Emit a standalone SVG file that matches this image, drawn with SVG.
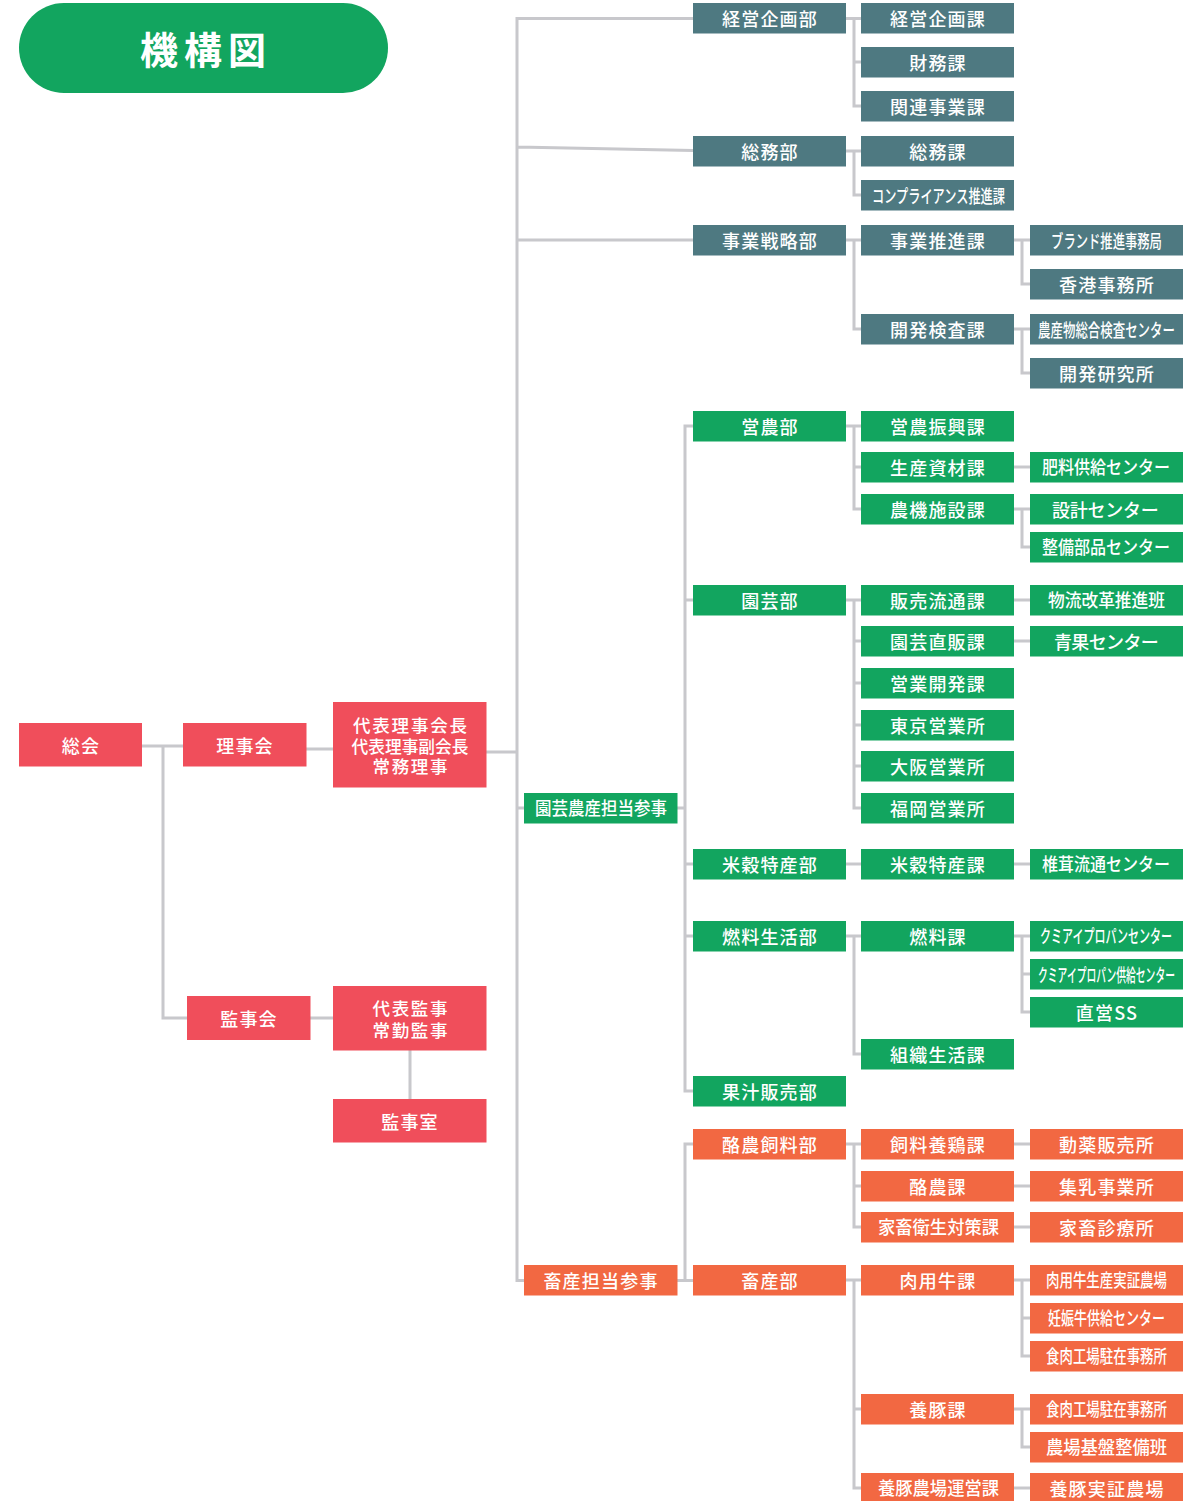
<svg xmlns="http://www.w3.org/2000/svg" width="1204" height="1501" viewBox="0 0 1204 1501">
<style>
.t{fill:#4e7981}.g{fill:#12a55f}.r{fill:#f04e5b}.o{fill:#f26842}
text{font-family:"Noto Sans CJK JP","Noto Sans CJK SC",sans-serif;font-size:18px;fill:#fff;font-weight:500;text-anchor:middle;dominant-baseline:central;letter-spacing:1.2px}
text.s{font-size:17.5px;letter-spacing:0}
text.c{letter-spacing:0}
text.title{font-size:38px;font-weight:700;letter-spacing:6px}
#conn path{stroke:#c8c8cc;stroke-width:3;fill:none}
</style>
<g id="conn">
<path d="M142,746H183M306,749H333M486,752H517M163,746V1018H187M310,1018H333M410,1050V1099"/>
<path d="M693,18.5H517V1280.5H524M517,147L693,150.5M517,240H693M517,808H524"/>
<path d="M677,808H685M693,426H685V1091H693M685,600H693M685,864H693M685,936H693"/>
<path d="M677,1280.5H693M685,1280.5V1144H693"/>
<path d="M846,18.5H861M854,18.5V106H861M854,62H861"/>
<path d="M846,151H861M854,151V195H861"/>
<path d="M846,240H861M854,240V329H861"/>
<path d="M846,426H861M854,426V509H861M854,467H861"/>
<path d="M846,600H861M854,600V808H861M854,641H861M854,683H861M854,725H861M854,766H861"/>
<path d="M846,864H861"/>
<path d="M846,936H861M854,936V1054H861"/>
<path d="M846,1144H861M854,1144V1227H861M854,1186H861"/>
<path d="M846,1280H861M854,1280V1488H861M854,1409H861"/>
<path d="M1014,240H1030M1022,240V284H1030"/>
<path d="M1014,329H1030M1022,329V373H1030"/>
<path d="M1014,467H1030"/>
<path d="M1014,509H1030M1022,509V547H1030"/>
<path d="M1014,600H1030M1014,641H1030"/>
<path d="M1014,864H1030"/>
<path d="M1014,936H1030M1022,936V1012H1030M1022,974H1030"/>
<path d="M1014,1144H1030M1014,1186H1030M1014,1227H1030"/>
<path d="M1014,1280H1030M1022,1280V1356H1030M1022,1318H1030"/>
<path d="M1014,1409H1030M1022,1409V1447H1030"/>
<path d="M1014,1488H1030"/>
</g>
<g id="title"><rect x="19" y="3" width="369" height="90" rx="45" class="g"/><text class="title" x="206" y="47.5">機構図</text></g>
<g id="soukai"><rect class="r" x="19" y="723" width="123" height="43.5"/><text x="81" y="744.5">総会</text></g>
<g id="rijikai"><rect class="r" x="183" y="723" width="123.5" height="43.5"/><text x="245" y="744.5">理事会</text></g>
<g id="daihyo"><rect class="r" x="333" y="702" width="153.5" height="85.5"/><text class="s" x="410" y="724.5" textLength="114">代表理事会長</text><text class="s" transform="translate(410,745) scale(0.955,1)" x="0" y="0">代表理事副会長</text><text class="s" x="410" y="765.5" textLength="75">常務理事</text></g>
<g id="kanjikai"><rect class="r" x="187" y="996" width="123.5" height="44"/><text x="249" y="1017.5">監事会</text></g>
<g id="daihyokanji"><rect class="r" x="333" y="986" width="153.5" height="64.5"/><text class="s" x="410" y="1007" textLength="75">代表監事</text><text class="s" x="410" y="1029" textLength="75">常勤監事</text></g>
<g id="kanjishitsu"><rect class="r" x="333" y="1099" width="153.5" height="43.5"/><text x="410" y="1120.5">監事室</text></g>
<g id="n1"><rect class="t" x="693" y="3" width="153" height="30.5"/><text x="770" y="17.5">経営企画部</text></g>
<g id="n2"><rect class="t" x="861" y="3" width="153" height="30.5"/><text x="938" y="17.5">経営企画課</text></g>
<g id="n3"><rect class="t" x="861" y="47" width="153" height="30.5"/><text x="938" y="61.5">財務課</text></g>
<g id="n4"><rect class="t" x="861" y="91" width="153" height="30.5"/><text x="938" y="105.5">関連事業課</text></g>
<g id="n5"><rect class="t" x="693" y="136" width="153" height="30.5"/><text x="770" y="150.5">総務部</text></g>
<g id="n6"><rect class="t" x="861" y="136" width="153" height="30.5"/><text x="938" y="150.5">総務課</text></g>
<g id="n7"><rect class="t" x="861" y="180" width="153" height="30.5"/><text class="c" transform="translate(938.5,194.5) scale(0.677,1)" x="0" y="0">コンプライアンス推進課</text></g>
<g id="n8"><rect class="t" x="693" y="225" width="153" height="30.5"/><text x="770" y="239.5">事業戦略部</text></g>
<g id="n9"><rect class="t" x="861" y="225" width="153" height="30.5"/><text x="938" y="239.5">事業推進課</text></g>
<g id="n10"><rect class="t" x="1030" y="225" width="153" height="30.5"/><text class="c" transform="translate(1106.5,239.5) scale(0.685,1)" x="0" y="0">ブランド推進事務局</text></g>
<g id="n11"><rect class="t" x="1030" y="269" width="153" height="30.5"/><text x="1107" y="283.5">香港事務所</text></g>
<g id="n12"><rect class="t" x="861" y="314" width="153" height="30.5"/><text x="938" y="328.5">開発検査課</text></g>
<g id="n13"><rect class="t" x="1030" y="314" width="153" height="30.5"/><text class="c" transform="translate(1106.5,328.5) scale(0.692,1)" x="0" y="0">農産物総合検査センター</text></g>
<g id="n14"><rect class="t" x="1030" y="358" width="153" height="30.5"/><text x="1107" y="372.5">開発研究所</text></g>
<g id="g1"><rect class="g" x="693" y="411" width="153" height="30.5"/><text x="770" y="425.5">営農部</text></g>
<g id="g2"><rect class="g" x="861" y="411" width="153" height="30.5"/><text x="938" y="425.5">営農振興課</text></g>
<g id="g3"><rect class="g" x="861" y="452" width="153" height="30.5"/><text x="938" y="466.5">生産資材課</text></g>
<g id="g4"><rect class="g" x="1030" y="452" width="153" height="30.5"/><text class="c" transform="translate(1106,466.5) scale(0.889,1)" x="0" y="0">肥料供給センター</text></g>
<g id="g5"><rect class="g" x="861" y="494" width="153" height="30.5"/><text x="938" y="508.5">農機施設課</text></g>
<g id="g6"><rect class="g" x="1030" y="494" width="153" height="30.5"/><text x="1106" y="508.5" textLength="108">設計センター</text></g>
<g id="g7"><rect class="g" x="1030" y="532" width="153" height="30.5"/><text class="c" transform="translate(1106,546.5) scale(0.889,1)" x="0" y="0">整備部品センター</text></g>
<g id="g8"><rect class="g" x="693" y="585" width="153" height="30.5"/><text x="770" y="599.5">園芸部</text></g>
<g id="g9"><rect class="g" x="861" y="585" width="153" height="30.5"/><text x="938" y="599.5">販売流通課</text></g>
<g id="g10"><rect class="g" x="1030" y="585" width="153" height="30.5"/><text class="c" transform="translate(1106.5,599.5) scale(0.929,1)" x="0" y="0">物流改革推進班</text></g>
<g id="g11"><rect class="g" x="861" y="626" width="153" height="30.5"/><text x="938" y="640.5">園芸直販課</text></g>
<g id="g12"><rect class="g" x="1030" y="626" width="153" height="30.5"/><text x="1107" y="640.5" textLength="106">青果センター</text></g>
<g id="g13"><rect class="g" x="861" y="668" width="153" height="30.5"/><text x="938" y="682.5">営業開発課</text></g>
<g id="g14"><rect class="g" x="861" y="710" width="153" height="30.5"/><text x="938" y="724.5">東京営業所</text></g>
<g id="g15"><rect class="g" x="861" y="751" width="153" height="30.5"/><text x="938" y="765.5">大阪営業所</text></g>
<g id="g16"><rect class="g" x="861" y="793" width="153" height="30.5"/><text x="938" y="807.5">福岡営業所</text></g>
<g id="g17"><rect class="g" x="524" y="793" width="153.5" height="30.5"/><text class="c" transform="translate(601,807.5) scale(0.917,1)" x="0" y="0">園芸農産担当参事</text></g>
<g id="g18"><rect class="g" x="693" y="849" width="153" height="30.5"/><text x="770" y="863.5">米穀特産部</text></g>
<g id="g19"><rect class="g" x="861" y="849" width="153" height="30.5"/><text x="938" y="863.5">米穀特産課</text></g>
<g id="g20"><rect class="g" x="1030" y="849" width="153" height="30.5"/><text class="c" transform="translate(1106,863.5) scale(0.889,1)" x="0" y="0">椎茸流通センター</text></g>
<g id="g21"><rect class="g" x="693" y="921" width="153" height="30.5"/><text x="770" y="935.5">燃料生活部</text></g>
<g id="g22"><rect class="g" x="861" y="921" width="153" height="30.5"/><text x="938" y="935.5">燃料課</text></g>
<g id="g23"><rect class="g" x="1030" y="921" width="153" height="30.5"/><text class="c" transform="translate(1106,935.5) scale(0.611,1)" x="0" y="0">クミアイプロパンセンター</text></g>
<g id="g24"><rect class="g" x="1030" y="959" width="153" height="30.5"/><text class="c" transform="translate(1106.5,973.5) scale(0.544,1)" x="0" y="0">クミアイプロパン供給センター</text></g>
<g id="g25"><rect class="g" x="1030" y="997" width="153" height="30.5"/><text x="1107" y="1011.5">直営SS</text></g>
<g id="g26"><rect class="g" x="861" y="1039" width="153" height="30.5"/><text x="938" y="1053.5">組織生活課</text></g>
<g id="g27"><rect class="g" x="693" y="1076" width="153" height="30.5"/><text x="770" y="1090.5">果汁販売部</text></g>
<g id="o1"><rect class="o" x="693" y="1129" width="153" height="30.5"/><text x="770" y="1143.5">酪農飼料部</text></g>
<g id="o2"><rect class="o" x="861" y="1129" width="153" height="30.5"/><text x="938" y="1143.5">飼料養鶏課</text></g>
<g id="o3"><rect class="o" x="1030" y="1129" width="153" height="30.5"/><text x="1107" y="1143.5">動薬販売所</text></g>
<g id="o4"><rect class="o" x="861" y="1171" width="153" height="30.5"/><text x="938" y="1185.5">酪農課</text></g>
<g id="o5"><rect class="o" x="1030" y="1171" width="153" height="30.5"/><text x="1107" y="1185.5">集乳事業所</text></g>
<g id="o6"><rect class="o" x="861" y="1212" width="153" height="30.5"/><text class="c" transform="translate(938.5,1226.5) scale(0.96,1)" x="0" y="0">家畜衛生対策課</text></g>
<g id="o7"><rect class="o" x="1030" y="1212" width="153" height="30.5"/><text x="1107" y="1226.5">家畜診療所</text></g>
<g id="o8"><rect class="o" x="524" y="1265" width="153.5" height="30.5"/><text x="601" y="1279.5">畜産担当参事</text></g>
<g id="o9"><rect class="o" x="693" y="1265" width="153" height="30.5"/><text x="770" y="1279.5">畜産部</text></g>
<g id="o10"><rect class="o" x="861" y="1265" width="153" height="30.5"/><text x="938" y="1279.5">肉用牛課</text></g>
<g id="o11"><rect class="o" x="1030" y="1265" width="153" height="30.5"/><text class="c" transform="translate(1106.5,1279.5) scale(0.747,1)" x="0" y="0">肉用牛生産実証農場</text></g>
<g id="o12"><rect class="o" x="1030" y="1303" width="153" height="30.5"/><text class="c" transform="translate(1106.5,1317.5) scale(0.722,1)" x="0" y="0">妊娠牛供給センター</text></g>
<g id="o13"><rect class="o" x="1030" y="1341" width="153" height="30.5"/><text class="c" transform="translate(1106.5,1355.5) scale(0.747,1)" x="0" y="0">食肉工場駐在事務所</text></g>
<g id="o14"><rect class="o" x="861" y="1394" width="153" height="30.5"/><text x="938" y="1408.5">養豚課</text></g>
<g id="o15"><rect class="o" x="1030" y="1394" width="153" height="30.5"/><text class="c" transform="translate(1106.5,1408.5) scale(0.747,1)" x="0" y="0">食肉工場駐在事務所</text></g>
<g id="o16"><rect class="o" x="1030" y="1432" width="153" height="30.5"/><text class="c" transform="translate(1106.5,1446.5) scale(0.96,1)" x="0" y="0">農場基盤整備班</text></g>
<g id="o17"><rect class="o" x="861" y="1473" width="153" height="30.5"/><text class="c" transform="translate(938.5,1487.5) scale(0.96,1)" x="0" y="0">養豚農場運営課</text></g>
<g id="o18"><rect class="o" x="1030" y="1473" width="153" height="30.5"/><text x="1107" y="1487.5">養豚実証農場</text></g>
</svg>
